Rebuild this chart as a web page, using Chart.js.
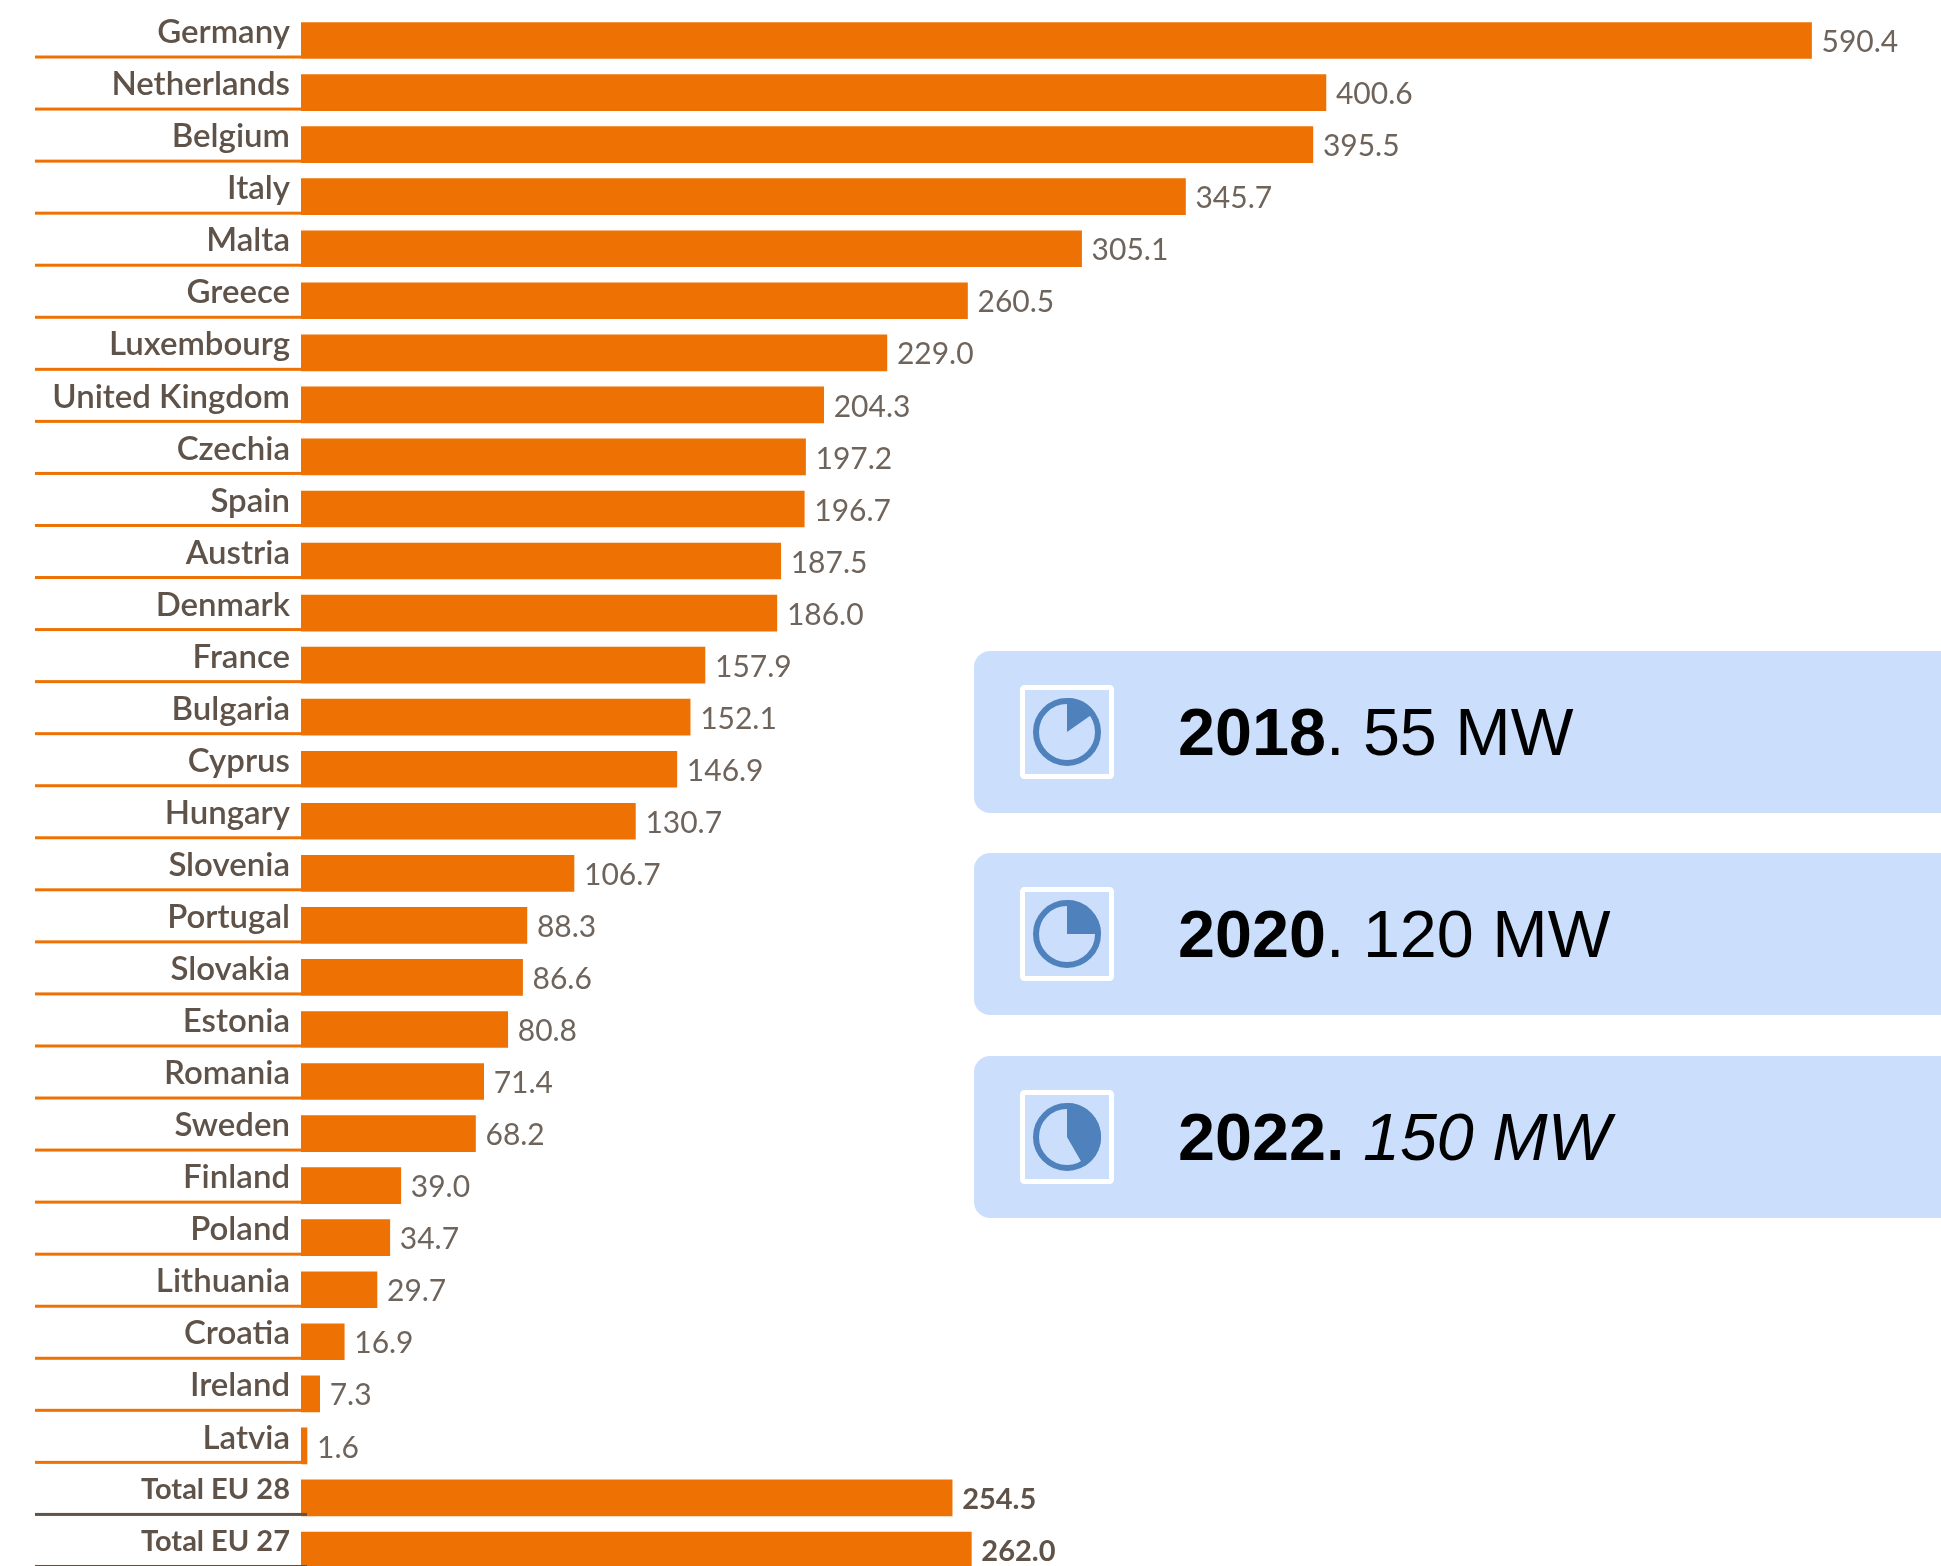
<!DOCTYPE html>
<html>
<head>
<meta charset="utf-8">
<title>Capacity per country</title>
<script src="https://cdn.jsdelivr.net/npm/chart.js@4"></script>
<style>
  html, body { margin: 0; padding: 0; background: #fff; }
  #page { position: relative; width: 1941px; height: 1566px; overflow: hidden; }
  canvas { position: absolute; left: 0; top: 0; }
  .panel {
    position: absolute; left: 974px; width: 967px; height: 162px;
    background: #cbdffd; border-radius: 16px 0 0 16px;
    font: 66.5px "Liberation Sans", Arial, sans-serif; color: #000;
    line-height: 162px; white-space: pre;
  }
  .panel svg { position: absolute; left: 46px; top: 34px; }
  .panel span.txt { position: absolute; left: 204px; top: 0; }
  .panel b { font-weight: bold; }
</style>
</head>
<body>
<div id="page">
  <canvas id="chart" width="1941" height="1576"></canvas>
</div>
<script>
// Chart data
const countries = [
  'Germany', 'Netherlands', 'Belgium', 'Italy', 'Malta', 'Greece', 'Luxembourg', 'United Kingdom',
  'Czechia', 'Spain', 'Austria', 'Denmark', 'France', 'Bulgaria', 'Cyprus', 'Hungary', 'Slovenia',
  'Portugal', 'Slovakia', 'Estonia', 'Romania', 'Sweden', 'Finland', 'Poland', 'Lithuania',
  'Croatia', 'Ireland', 'Latvia', 'Total EU 28', 'Total EU 27'
];
const capacity = [
  590.4, 400.6, 395.5, 345.7, 305.1, 260.5, 229.0, 204.3,
  197.2, 196.7, 187.5, 186.0, 157.9, 152.1, 146.9, 130.7, 106.7,
  88.3, 86.6, 80.8, 71.4, 68.2, 39.0, 34.7, 29.7,
  16.9, 7.3, 1.6, 254.5, 262.0
];

// Panels on the right
const panelYears = ['2018', '2020', '2022'];
const panelValues = ['55 MW', '120 MW', '150 MW'];
const panelAngles = [55, 90, 150];
const panelTops = [651, 853, 1056];

const orange = '#ee7203';
const darkText = '#5f5248';
const isTotal = label => label.startsWith('Total');

// Rule under each label, flush with the bottom of the bar
const rowRules = {
  id: 'rowRules',
  afterDatasetsDraw(chart) {
    const ctx = chart.ctx;
    const yScale = chart.scales.y;
    const xScale = chart.scales.x;
    ctx.save();
    countries.forEach((name, i) => {
      const y = yScale.getPixelForValue(i) + 18;
      ctx.fillStyle = isTotal(name) ? darkText : orange;
      ctx.fillRect(35, y - 3, xScale.getPixelForValue(0) + (isTotal(name) ? 6 : 0) - 35, 3);
    });
    ctx.restore();
  }
};

// Value at the end of each bar
const valueLabels = {
  id: 'valueLabels',
  afterDatasetsDraw(chart) {
    const ctx = chart.ctx;
    const meta = chart.getDatasetMeta(0);
    ctx.save();
    ctx.textBaseline = 'middle';
    ctx.textAlign = 'left';
    meta.data.forEach((bar, i) => {
      const total = isTotal(countries[i]);
      ctx.font = total ? 'bold 29px Lato' : '30px Lato';
      ctx.fillStyle = total ? darkText : '#6f645b';
      ctx.fillText(capacity[i].toFixed(1), bar.x + 10, bar.y + 2);
    });
    ctx.restore();
  }
};

new Chart(document.getElementById('chart').getContext('2d'), {
  type: 'bar',
  data: {
    labels: countries,
    datasets: [{
      data: capacity,
      backgroundColor: orange,
      borderWidth: 0,
      barThickness: 36,
      minBarLength: 6
    }]
  },
  options: {
    indexAxis: 'y',
    responsive: false,
    animation: false,
    layout: { padding: { top: 14.5, left: 0, right: 0, bottom: 0 } },
    scales: {
      x: { display: false, min: 0, max: 641 },
      y: {
        grid: { display: false, drawTicks: false },
        border: { display: false },
        afterFit(scale) {
          scale.width = 301;
          // the first and last labels must not shrink the plot
          scale.paddingTop = 0;
          scale.paddingBottom = 0;
        },
        ticks: {
          padding: 11,
          labelOffset: -8,
          autoSkip: false,
          color: darkText,
          font: ctx => {
            const total = isTotal(countries[ctx.index]);
            return { family: 'Lato', size: total ? 29 : 33, weight: total ? 'bold' : '600' };
          }
        }
      }
    },
    plugins: {
      legend: { display: false },
      tooltip: { enabled: false }
    }
  },
  plugins: [rowRules, valueLabels]
});

// Build the pie icon for a panel
function iconSvg(angle) {
  const cx = 47, cy = 47, r = 34;
  const a = angle * Math.PI / 180;
  const ex = cx + r * Math.sin(a), ey = cy - r * Math.cos(a);
  const large = angle > 180 ? 1 : 0;
  return `<svg width="94" height="94" viewBox="0 0 94 94">
    <rect x="2.5" y="2.5" width="89" height="89" rx="2" fill="none" stroke="#fff" stroke-width="5"/>
    <circle cx="${cx}" cy="${cy}" r="${r - 3}" fill="none" stroke="#4f81bd" stroke-width="6"/>
    <path d="M${cx} ${cy} L${cx} ${cy - r} A${r} ${r} 0 ${large} 1 ${ex} ${ey} Z" fill="#4f81bd"/>
  </svg>`;
}

const page = document.getElementById('page');
panelYears.forEach((year, i) => {
  const panel = document.createElement('div');
  panel.className = 'panel';
  panel.style.top = panelTops[i] + 'px';
  // Last panel has a bold full stop and an italic value
  const text = i === 2
    ? `<b>${year}.</b> <i>${panelValues[i]}</i>`
    : `<b>${year}</b>. ${panelValues[i]}`;
  panel.innerHTML = iconSvg(panelAngles[i]) + `<span class="txt">${text}</span>`;
  page.appendChild(panel);
});
</script>
</body>
</html>
